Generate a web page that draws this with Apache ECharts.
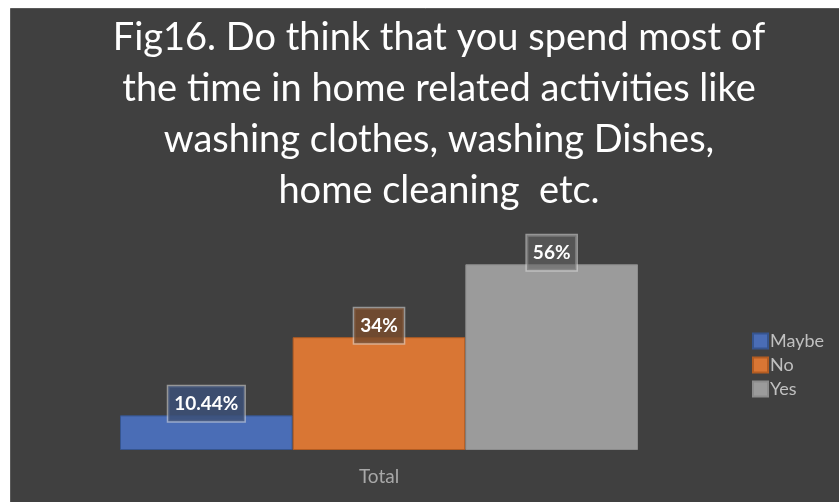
<!DOCTYPE html>
<html>
<head>
<meta charset="utf-8">
<script src="https://cdn.jsdelivr.net/npm/echarts@6/dist/echarts.min.js"></script>
<style>
html,body{margin:0;padding:0;background:#ffffff;}
#chart{width:839px;height:502px;}
</style>
</head>
<body>
<div id="chart"></div>
<script>
var titleLines = [
  'Fig16. Do think that you spend most of',
  'the time in home related activities like',
  'washing clothes, washing Dishes,',
  'home cleaning  etc.'
];
var categories = ['Total'];
var seriesNames = ['Maybe', 'No', 'Yes'];
var maybeValues = [10.44];
var noValues = [34];
var yesValues = [56];
var seriesValues = [maybeValues, noValues, yesValues];
var barColors = ['#4A6DB6', '#D97634', '#9B9B9B'];
var borderColors = ['#36558f', '#b35c22', '#8c8c8c'];
var labelBg = ['rgba(60,80,120,0.85)', 'rgba(120,76,46,0.85)', 'rgba(100,100,100,0.6)'];

var chart = echarts.init(document.getElementById('chart'), null, {renderer: 'canvas'});
var series = seriesNames.map(function (name, i) {
  return {
    name: name,
    type: 'bar',
    data: seriesValues[i],
    barGap: '0%',
    barCategoryGap: '0%',
    itemStyle: {color: barColors[i], borderColor: borderColors[i], borderWidth: 1},
    label: {
      show: true,
      position: 'top',
      distance: -6,
      formatter: function (p) { return p.value + '%'; },
      color: '#ffffff',
      fontFamily: 'Lato',
      fontWeight: 'bold',
      fontSize: 19,
      backgroundColor: labelBg[i],
      borderColor: 'rgba(220,220,220,0.55)',
      borderWidth: 1.5,
      padding: [8, 6, 8, 6]
    }
  };
});

chart.setOption({
  backgroundColor: '#ffffff',
  animation: false,
  graphic: [{
    type: 'rect',
    z: -10,
    shape: {x: 10.5, y: 8.5, width: 830, height: 496},
    style: {fill: '#404040', stroke: '#5a5a5a', lineWidth: 1}
  }],
  title: {
    text: titleLines.join('\n'),
    left: 434,
    textAlign: 'center',
    top: 7,
    textStyle: {
      color: '#ffffff',
      fontFamily: 'Lato',
      fontWeight: 'normal',
      fontSize: 38,
      lineHeight: 51
    }
  },
  legend: {
    orient: 'vertical',
    left: 747,
    top: 327,
    itemWidth: 15,
    itemHeight: 15,
    itemGap: 6,
    icon: 'rect',
    data: seriesNames,
    textStyle: {color: '#c0c0c0', fontFamily: 'Lato', fontSize: 18, padding: [0, 0, 0, -3]}
  },
  grid: {left: 120, right: 201, top: 251, bottom: 52},
  xAxis: {
    type: 'category',
    data: categories,
    axisLine: {show: false},
    axisTick: {show: false},
    axisLabel: {color: '#a8a8a8', fontFamily: 'Lato', fontSize: 19, margin: 17}
  },
  yAxis: {
    type: 'value',
    min: 0,
    max: 60,
    show: false,
    splitLine: {show: false}
  },
  series: series
});
</script>
</body>
</html>
